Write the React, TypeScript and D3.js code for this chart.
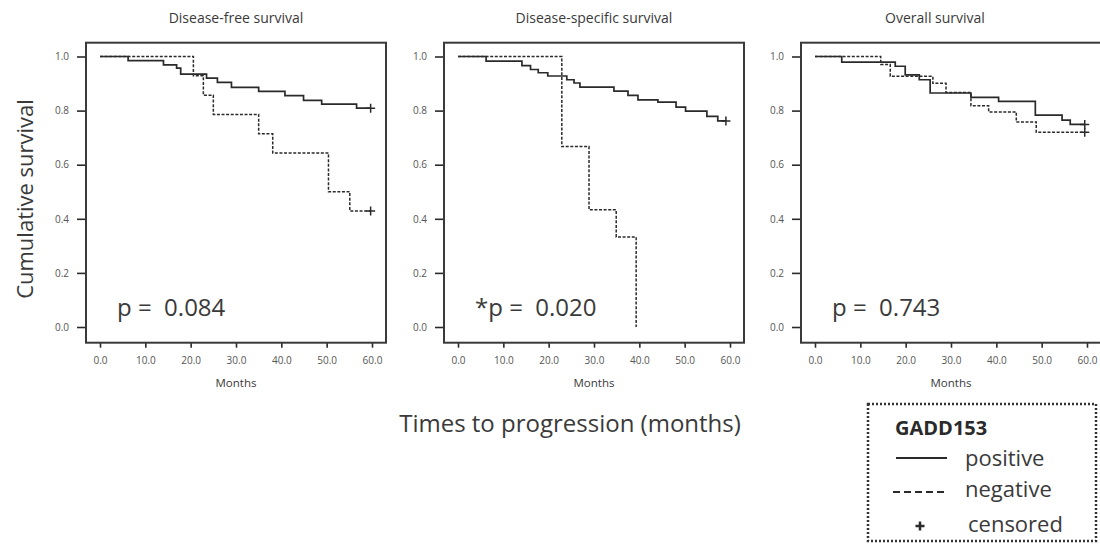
import { useEffect, useRef } from 'react';
import * as d3 from 'd3';

// Disease-free survival
const dfsPosMonths = [0, 6.2, 14.0, 16.9, 17.8, 23.5, 25.9, 29.0, 35.0, 40.8, 44.9, 48.9, 56.6, 59.7];
const dfsPosSurvival = [1.0, 0.985, 0.969, 0.957, 0.935, 0.92, 0.904, 0.886, 0.871, 0.855, 0.838, 0.824, 0.809, 0.809];
const dfsNegMonths = [0, 20.6, 22.8, 25.0, 35.0, 38.1, 50.4, 55.1, 59.7];
const dfsNegSurvival = [1.0, 0.929, 0.857, 0.786, 0.714, 0.643, 0.5, 0.429, 0.429];

// Disease-specific survival
const dssPosMonths = [0, 6.2, 14.1, 16.0, 17.7, 19.8, 24.0, 25.6, 26.9, 34.4, 37.5, 39.7, 44.1, 48.1, 50.2, 54.9, 57.3, 59.1];
const dssPosSurvival = [1.0, 0.983, 0.966, 0.952, 0.94, 0.928, 0.914, 0.902, 0.887, 0.872, 0.856, 0.84, 0.831, 0.813, 0.798, 0.779, 0.762, 0.762];
const dssNegMonths = [0, 22.9, 28.9, 34.9, 39.3];
const dssNegSurvival = [1.0, 0.667, 0.433, 0.333, 0.0];

// Overall survival
const osPosMonths = [0, 5.9, 17.7, 19.9, 23.0, 25.4, 34.4, 40.5, 48.6, 54.5, 56.3, 59.5];
const osPosSurvival = [1.0, 0.979, 0.964, 0.932, 0.914, 0.865, 0.849, 0.834, 0.783, 0.765, 0.749, 0.749];
const osNegMonths = [0, 14.5, 16.6, 26.0, 28.9, 34.4, 38.3, 44.4, 48.8, 59.5];
const osNegSurvival = [1.0, 0.97, 0.927, 0.901, 0.867, 0.818, 0.795, 0.758, 0.72, 0.72];

// censored observations (months)
const dfsPosCensored = [59.7];
const dfsNegCensored = [59.7];
const dssPosCensored = [59.1];
const dssNegCensored: number[] = [];
const osPosCensored = [59.5];
const osNegCensored = [59.5];

const panelTitles = ['Disease-free survival', 'Disease-specific survival', 'Overall survival'];
const pValues = ['p = 0.084', '*p = 0.020', 'p = 0.743'];
const monthTicks = [0, 10, 20, 30, 40, 50, 60];
const survivalTicks = [0, 0.2, 0.4, 0.6, 0.8, 1.0];
const legendLabels = ['positive', 'negative', 'censored'];

interface Series {
  months: number[];
  survival: number[];
  censored: number[];
}

const panels: { title: string; p: string; pos: Series; neg: Series }[] = [
  {
    title: panelTitles[0],
    p: pValues[0],
    pos: { months: dfsPosMonths, survival: dfsPosSurvival, censored: dfsPosCensored },
    neg: { months: dfsNegMonths, survival: dfsNegSurvival, censored: dfsNegCensored },
  },
  {
    title: panelTitles[1],
    p: pValues[1],
    pos: { months: dssPosMonths, survival: dssPosSurvival, censored: dssPosCensored },
    neg: { months: dssNegMonths, survival: dssNegSurvival, censored: dssNegCensored },
  },
  {
    title: panelTitles[2],
    p: pValues[2],
    pos: { months: osPosMonths, survival: osPosSurvival, censored: osPosCensored },
    neg: { months: osNegMonths, survival: osNegSurvival, censored: osNegCensored },
  },
];

const FONT = '"Open Sans", "Noto Sans", "DejaVu Sans", sans-serif';
const INK = '#2a2a2a';
const TEXT = '#3a3a3a';

// survival value of a step curve at time t
const survivalAt = (s: Series, t: number) => {
  let v = s.survival[0];
  s.months.forEach((m, i) => {
    if (m <= t) v = s.survival[i];
  });
  return v;
};

const App = () => {
  const svgRef = useRef<SVGSVGElement>(null);

  useEffect(() => {
    const svg = d3.select(svgRef.current);
    svg.selectAll('*').remove();

    const boxLefts = [86, 444, 801];
    const titleCenters = [236, 594, 935];
    const boxW = 300;
    const boxTop = 42.7;
    const boxBottom = 342.7;

    const y = d3.scaleLinear().domain([0, 1]).range([327, 56.5]);

    panels.forEach((panel, i) => {
      const left = boxLefts[i];
      const x = d3.scaleLinear().domain([0, 60]).range([left + 14, left + 286]);
      const g = svg.append('g');

      // title
      g.append('text')
        .attr('x', titleCenters[i])
        .attr('y', 23)
        .attr('text-anchor', 'middle')
        .attr('font-family', FONT)
        .attr('font-size', 14)
        .attr('fill', TEXT)
        .text(panel.title);

      // y axis
      g.append('g')
        .attr('transform', `translate(${left},0)`)
        .call(
          d3
            .axisLeft(y)
            .tickValues(survivalTicks)
            .tickFormat(d3.format('.1f') as any)
            .tickSize(9)
            .tickPadding(8),
        )
        .call((a) => a.select('.domain').remove())
        .call((a) => a.selectAll('line').attr('stroke', INK).attr('stroke-width', 1.6))
        .call((a) =>
          a.selectAll('text').attr('font-family', FONT).attr('font-size', 10).attr('fill', '#555'),
        );

      // x axis
      g.append('g')
        .attr('transform', `translate(0,${boxBottom})`)
        .call(
          d3
            .axisBottom(x)
            .tickValues(monthTicks)
            .tickFormat(d3.format('.1f') as any)
            .tickSize(5)
            .tickPadding(9),
        )
        .call((a) => a.select('.domain').remove())
        .call((a) => a.selectAll('line').attr('stroke', INK).attr('stroke-width', 1.6))
        .call((a) =>
          a.selectAll('text').attr('font-family', FONT).attr('font-size', 10).attr('fill', '#555'),
        );

      // frame
      g.append('rect')
        .attr('x', left)
        .attr('y', boxTop)
        .attr('width', boxW)
        .attr('height', boxBottom - boxTop)
        .attr('fill', 'none')
        .attr('stroke', '#3a3a3a')
        .attr('stroke-width', 2);

      g.append('text')
        .attr('x', (x(0) + x(60)) / 2)
        .attr('y', 387)
        .attr('text-anchor', 'middle')
        .attr('font-family', FONT)
        .attr('font-size', 11.5)
        .attr('fill', TEXT)
        .text('Months');

      const stepLine = d3
        .line<[number, number]>()
        .x((d) => x(d[0]))
        .y((d) => y(d[1]))
        .curve(d3.curveStepAfter);

      const drawSeries = (s: Series, dashed: boolean) => {
        const pts: [number, number][] = s.months.map((m, j) => [m, s.survival[j]]);
        g.append('path')
          .attr('d', stepLine(pts) as string)
          .attr('fill', 'none')
          .attr('stroke', INK)
          .attr('stroke-width', dashed ? 1.5 : 1.7)
          .attr('stroke-dasharray', dashed ? '3,1.6' : null);

        // censor marks
        g.selectAll(null)
          .data(s.censored)
          .enter()
          .append('path')
          .attr('transform', (m) => `translate(${x(m)},${y(survivalAt(s, m))})`)
          .attr('d', 'M-4.5,0H4.5M0,-4.5V4.5')
          .attr('stroke', INK)
          .attr('stroke-width', 1.5);
      };

      drawSeries(panel.neg, true);
      drawSeries(panel.pos, false);

      // p value
      g.append('text')
        .attr('x', left + 31)
        .attr('y', 316)
        .attr('font-family', FONT)
        .attr('font-size', 24)
        .attr('fill', TEXT)
        .style('white-space', 'pre')
        .text(panel.p.replace('= ', '=  '));
    });

    // shared axis titles
    svg.append('text')
      .attr('transform', 'translate(33,199) rotate(-90)')
      .attr('text-anchor', 'middle')
      .attr('font-family', FONT)
      .attr('font-size', 22)
      .attr('fill', TEXT)
      .text('Cumulative survival');

    svg.append('text')
      .attr('x', 570)
      .attr('y', 432)
      .attr('text-anchor', 'middle')
      .attr('font-family', FONT)
      .attr('font-size', 24)
      .attr('fill', TEXT)
      .text('Times to progression (months)');

    // legend
    const lg = svg.append('g');
    lg.append('rect')
      .attr('x', 868)
      .attr('y', 404)
      .attr('width', 228)
      .attr('height', 137)
      .attr('fill', 'none')
      .attr('stroke', '#333')
      .attr('stroke-width', 2.5)
      .attr('stroke-dasharray', '2,2');
    lg.append('text')
      .attr('x', 895)
      .attr('y', 435)
      .attr('font-family', FONT)
      .attr('font-size', 20)
      .attr('font-weight', 'bold')
      .attr('fill', '#2a2a2a')
      .text('GADD153');
    lg.append('line')
      .attr('x1', 896).attr('x2', 947).attr('y1', 458).attr('y2', 458)
      .attr('stroke', INK).attr('stroke-width', 2);
    lg.append('line')
      .attr('x1', 893).attr('x2', 946).attr('y1', 492).attr('y2', 492)
      .attr('stroke', INK).attr('stroke-width', 2).attr('stroke-dasharray', '7,4');
    lg.append('path')
      .attr('transform', 'translate(920,526)')
      .attr('d', 'M-4.5,0H4.5M0,-4.5V4.5')
      .attr('stroke', INK)
      .attr('stroke-width', 2.5);
    const legendX = [965, 965, 968];
    const legendY = [466, 497, 532];
    legendLabels.forEach((t, i) => {
      lg.append('text')
        .attr('x', legendX[i])
        .attr('y', legendY[i])
        .attr('font-family', FONT)
        .attr('font-size', 22)
        .attr('fill', TEXT)
        .text(t);
    });
  }, []);

  return (
    <svg
      ref={svgRef}
      width={1100}
      height={544}
      style={{ position: 'absolute', left: 0, top: 0, background: '#fff' }}
    />
  );
};

export default App;
